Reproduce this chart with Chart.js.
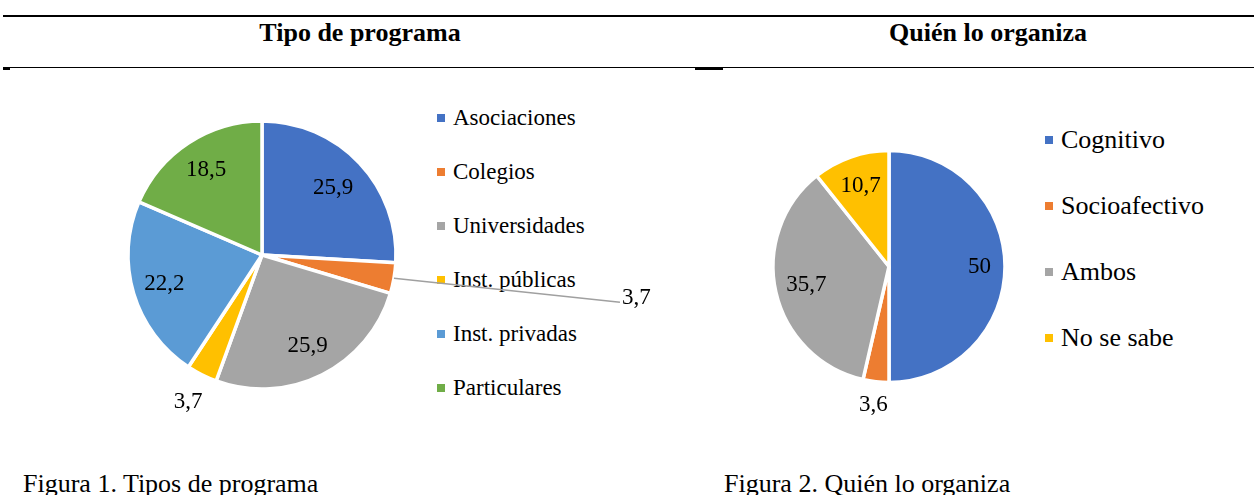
<!DOCTYPE html>
<html>
<head>
<meta charset="utf-8">
<script src="https://cdn.jsdelivr.net/npm/chart.js"></script>
<style>
  html, body { margin: 0; padding: 0; background: #fff; }
  body { width: 1254px; height: 495px; position: relative; overflow: hidden;
         font-family: "Liberation Serif", "Times New Roman", serif; color: #000; }
  .rule { position: absolute; background: #000; }
  .title { position: absolute; top: 17px; font-size: 26px; font-weight: bold; line-height: 32px;
           text-align: center; width: 400px; }
  .caption { position: absolute; top: 469px; font-size: 26px; line-height: 30px; white-space: nowrap; }
  .legend { position: absolute; font-family: "Liberation Serif", serif; }
  .legend div { display: flex; align-items: center; white-space: nowrap; }
  .legend span.box { display: inline-block; width: 8px; height: 8px; margin-right: 8px; }
  canvas { position: absolute; }
</style>
</head>
<body>
<div class="rule" style="left:3px; top:15px; width:1251px; height:2px;"></div>
<div class="rule" style="left:3px; top:67px; width:1251px; height:1px;"></div>
<div class="rule" style="left:3px; top:67px; width:7px; height:3px;"></div>
<div class="rule" style="left:695px; top:67px; width:28px; height:3px;"></div>

<div class="title" style="left:160px;">Tipo de programa</div>
<div class="title" style="left:788px;">Quién lo organiza</div>

<div class="legend" id="legend1" style="left:437px; top:91px; font-size:23px;"></div>
<div class="legend" id="legend2" style="left:1045px; top:107px; font-size:26px;"></div>

<canvas id="tipo" width="700" height="370" style="left:0; top:80px;"></canvas>
<canvas id="quien" width="554" height="370" style="left:700px; top:80px;"></canvas>

<div class="caption" style="left:23px;">Figura 1. Tipos de programa</div>
<div class="caption" style="left:724px;">Figura 2. Quién lo organiza</div>

<script>
// data
const tipoLabels = ['Asociaciones', 'Colegios', 'Universidades', 'Inst. públicas', 'Inst. privadas', 'Particulares'];
const tipoValues = [25.9, 3.7, 25.9, 3.7, 22.2, 18.5];
const quienLabels = ['Cognitivo', 'Socioafectivo', 'Ambos', 'No se sabe'];
const quienValues = [50, 3.6, 35.7, 10.7];

const officeColors = ['#4472C4', '#ED7D31', '#A5A5A5', '#FFC000', '#5B9BD5', '#70AD47'];
const labelFont = '23px "Liberation Serif"';

function fmt(v) {
  return String(v).replace('.', ',');
}

// draws the values on the slices (fraction of radius per slice), with an optional callout
const valueLabels = {
  id: 'valueLabels',
  afterDatasetsDraw(chart, args, opts) {
    const ctx = chart.ctx;
    const meta = chart.getDatasetMeta(0);
    const values = chart.data.datasets[0].data;
    ctx.save();
    ctx.font = opts.font;
    ctx.fillStyle = '#000';
    ctx.textBaseline = 'middle';
    meta.data.forEach((arc, i) => {
      const p = arc.getProps(['x', 'y', 'startAngle', 'endAngle', 'outerRadius'], true);
      const mid = (p.startAngle + p.endAngle) / 2;
      const txt = fmt(values[i]);
      const co = opts.callout;
      if (co && co.index === i) {
        const ex = p.x + Math.cos(mid) * p.outerRadius;
        const ey = p.y + Math.sin(mid) * p.outerRadius;
        ctx.strokeStyle = '#A0A0A0';
        ctx.lineWidth = 1.5;
        ctx.beginPath();
        ctx.moveTo(ex, ey);
        ctx.lineTo(ex + co.dx, ey + co.dy);
        ctx.stroke();
        ctx.textAlign = 'left';
        ctx.fillText(txt, ex + co.dx + 2, ey + co.dy - 4);
        return;
      }
      const f = opts.dist[i];
      ctx.textAlign = 'center';
      ctx.fillText(txt, p.x + Math.cos(mid) * p.outerRadius * f, p.y + Math.sin(mid) * p.outerRadius * f);
    });
    ctx.restore();
  }
};

function buildLegend(id, labels, rowH) {
  const el = document.getElementById(id);
  labels.forEach((l, i) => {
    const row = document.createElement('div');
    row.style.height = rowH + 'px';
    row.innerHTML = '<span class="box" style="background:' + officeColors[i] + '"></span>' + l;
    el.appendChild(row);
  });
}
buildLegend('legend1', tipoLabels, 54);
buildLegend('legend2', quienLabels, 66);

function drawCharts() {
  new Chart('tipo', {
    type: 'pie',
    data: {
      labels: tipoLabels,
      datasets: [{
        data: tipoValues,
        backgroundColor: officeColors,
        borderColor: '#fff',
        borderWidth: 3.5,
      }],
    },
    plugins: [valueLabels],
    options: {
      responsive: false,
      animation: false,
      radius: 134,
      layout: { padding: { left: 130, right: 306, top: 43, bottom: 63 } },
      plugins: {
        legend: { display: false },
        tooltip: { enabled: false },
        valueLabels: {
          font: labelFont,
          dist: [0.73, 0, 0.76, 1.23, 0.76, 0.76],
          callout: { index: 1, dx: 226, dy: 24 },
        },
      },
    },
  });

  new Chart('quien', {
    type: 'pie',
    data: {
      labels: quienLabels,
      datasets: [{
        data: quienValues,
        backgroundColor: officeColors.slice(0, 4),
        borderColor: '#fff',
        borderWidth: 3.5,
      }],
    },
    plugins: [valueLabels],
    options: {
      responsive: false,
      animation: false,
      radius: 116,
      layout: { padding: { left: 75, right: 251, top: 73, bottom: 70 } },
      plugins: {
        legend: { display: false },
        tooltip: { enabled: false },
        valueLabels: {
          font: labelFont,
          dist: [0.78, 1.2, 0.73, 0.74],
        },
      },
    },
  });
}

document.fonts.load(labelFont).then(drawCharts, drawCharts);
</script>
</body>
</html>
